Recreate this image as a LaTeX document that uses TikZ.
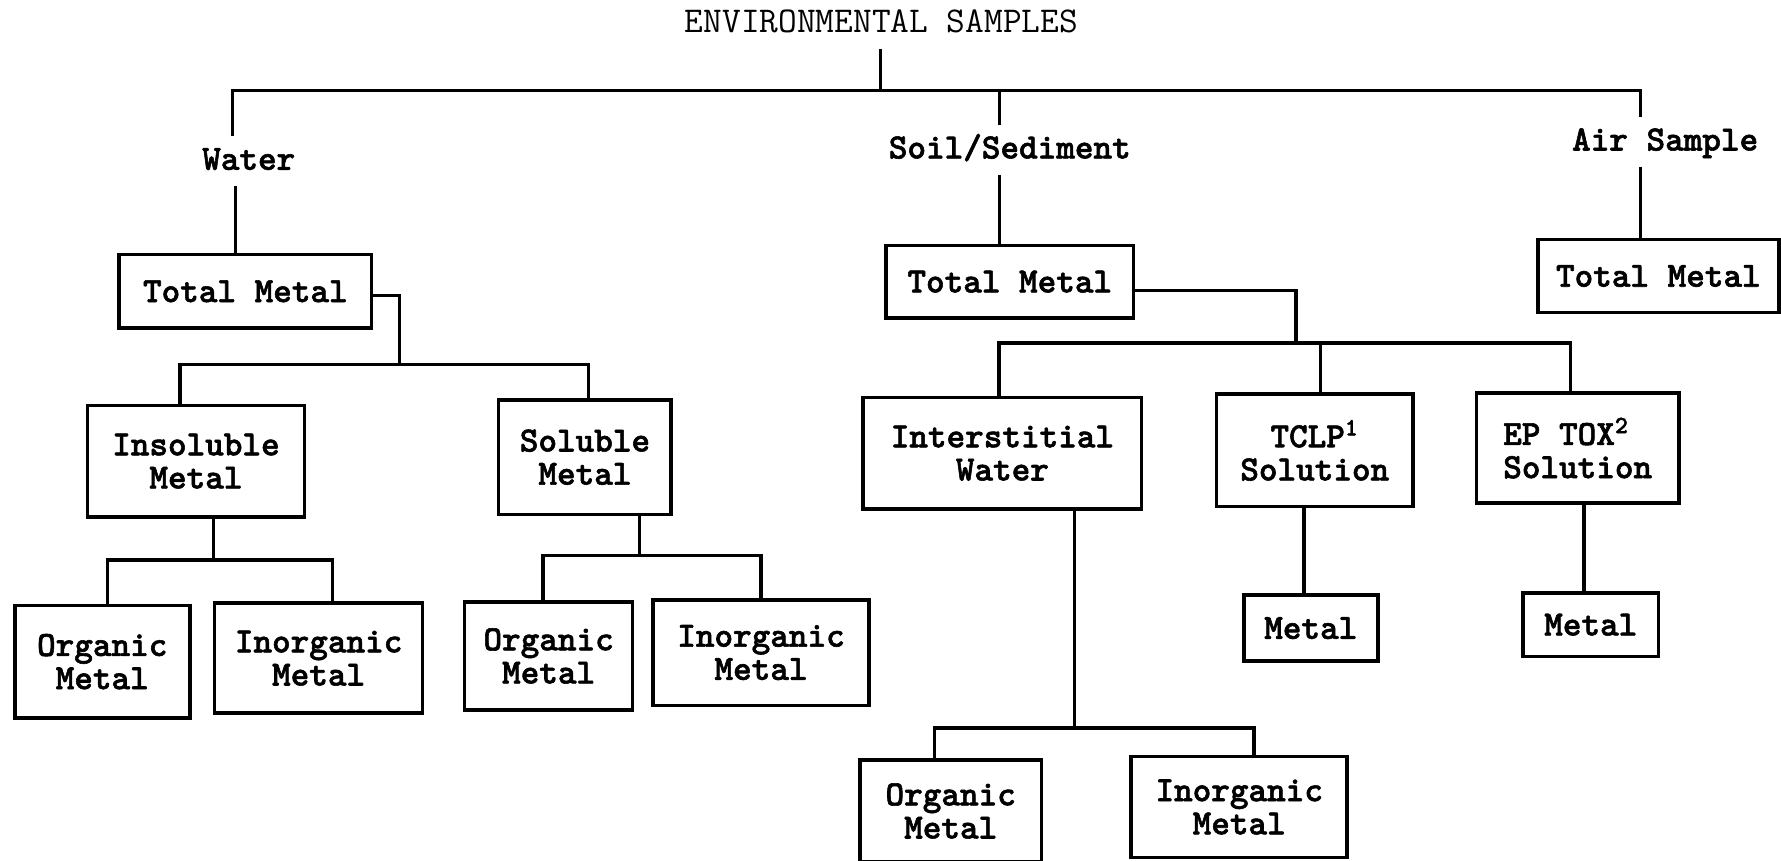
\documentclass[tikz,border=0pt]{standalone}
\usepackage{fontspec}
\newfontfamily\boxfont[Extension=.otf,FakeBold=1.6]{lmmonolt10-bold}
\usepackage{tikz}

\begin{document}
\begin{tikzpicture}[x=0.5pt,y=-0.5pt,
    every node/.style={font=\boxfont\fontsize{15.6}{14.6}\selectfont},
    box/.style={draw,line width=1.6pt,align=center,inner sep=0pt},
    lbl/.style={inner sep=5pt,text height=9.5pt,text depth=2pt},
    link/.style={line width=1.4pt}]
    \useasboundingbox (0,0) rectangle (1568,758);

    % Sample types
    \node[lbl,font=\ttfamily\fontsize{16}{14}\selectfont] (env) at (776,21) {ENVIRONMENTAL SAMPLES};
    \node[lbl] (water) at (219,142) {Water};
    \node[lbl] (soil) at (889,132) {Soil/Sediment};
    \node[lbl] (air) at (1466,125) {Air Sample};

    % Water
    \node[box,minimum width=111pt,minimum height=32.5pt] (wtm) at (216,256.5) {Total Metal};
    \node[box,minimum width=95.5pt,minimum height=49pt] (ins) at (172.5,406) {Insoluble\\Metal};
    \node[box,minimum width=76pt,minimum height=50.5pt] (sol) at (515,402.5) {Soluble\\Metal};
    \node[box,minimum width=77pt,minimum height=49.5pt] (iorg) at (90,582.5) {Organic\\Metal};
    \node[box,minimum width=91.5pt,minimum height=48.5pt] (iinorg) at (280.5,579.5) {Inorganic\\Metal};
    \node[box,minimum width=74pt,minimum height=47.5pt] (sorg) at (483,577.5) {Organic\\Metal};
    \node[box,minimum width=95pt,minimum height=46.5pt] (sinorg) at (670,574.5) {Inorganic\\Metal};

    % Soil/Sediment
    \node[box,minimum width=109pt,minimum height=32pt] (stm) at (889,248) {Total Metal};
    \node[box,minimum width=122.5pt,minimum height=49pt] (intw) at (882.5,399) {Interstitial\\Water};
    \node[box,minimum width=86.5pt,minimum height=49.5pt] (tclp) at (1157.5,396.5) {TCLP\textsuperscript{1}\\Solution};
    \node[box,align=left,minimum width=89pt,minimum height=48.5pt] (eptox) at (1389,394.5) {EP TOX\textsuperscript{2}\\Solution};
    \node[box,minimum width=59pt,minimum height=29pt] (tmet) at (1154,553) {Metal};
    \node[box,minimum width=59.5pt,minimum height=28pt] (emet) at (1400.5,550) {Metal};
    \node[box,minimum width=80pt,minimum height=45pt] (worg) at (837,714) {Organic\\Metal};
    \node[box,minimum width=95pt,minimum height=44.5pt] (winorg) at (1091,710.5) {Inorganic\\Metal};

    % Air
    \node[box,minimum width=106pt,minimum height=32pt] (atm) at (1460,243) {Total Metal};

    % Top level links
    \coordinate (top) at (775,80);
    \draw[link] (env.south -| top) -- (top);
    \draw[link] ([xshift=-7pt]water.north) |- (top) -| ([xshift=-11pt]air.north);
    \draw[link] ([xshift=-4.5pt]soil.north) -- ([xshift=-4.5pt]soil.north |- top);
    \draw[link] ([xshift=-6pt]water.south) -- ([xshift=-6pt]water.south |- wtm.north);
    \draw[link] ([xshift=-4.5pt]soil.south) -- ([xshift=-4.5pt]soil.south |- stm.north);
    \draw[link] ([xshift=-11pt]air.south) -- ([xshift=-11pt]air.south |- atm.north);

    % Water links
    \coordinate (wj) at (352,321);
    \draw[link] ([yshift=-2pt]wtm.east) -| (wj);
    \draw[link] ([xshift=-7pt]ins.north) |- (wj) -| ([xshift=1.5pt]sol.north);
    \coordinate (ij) at (188,493);
    \draw[link] (ins.south -| ij) -- (ij);
    \draw[link] ([xshift=2.5pt]iorg.north) |- (ij) -| ([xshift=6pt]iinorg.north);
    \coordinate (sj) at (563,489);
    \draw[link] (sol.south -| sj) -- (sj);
    \draw[link] ([xshift=-2.5pt]sorg.north) |- (sj) -| (sinorg.north);

    % Soil/Sediment links
    \coordinate (tj) at (1141,302);
    \draw[link] ([yshift=-4pt]stm.east) -| (tj);
    \draw[link] ([xshift=-1.5pt]intw.north) |- (tj) -| ([xshift=-3pt]eptox.north);
    \draw[link] ([xshift=2.5pt]tclp.north) -- ([xshift=2.5pt]tclp.north |- tj);
    \draw[link] ([xshift=-3pt]tmet.north |- tclp.south) -- ([xshift=-3pt]tmet.north);
    \draw[link] ([xshift=-3pt]emet.north |- eptox.south) -- ([xshift=-3pt]emet.north);
    \coordinate (iwj) at (946,641);
    \draw[link] (intw.south -| iwj) -- (iwj);
    \draw[link] ([xshift=-7pt]worg.north) |- (iwj) -| ([xshift=6.5pt]winorg.north);
\end{tikzpicture}
\end{document}
